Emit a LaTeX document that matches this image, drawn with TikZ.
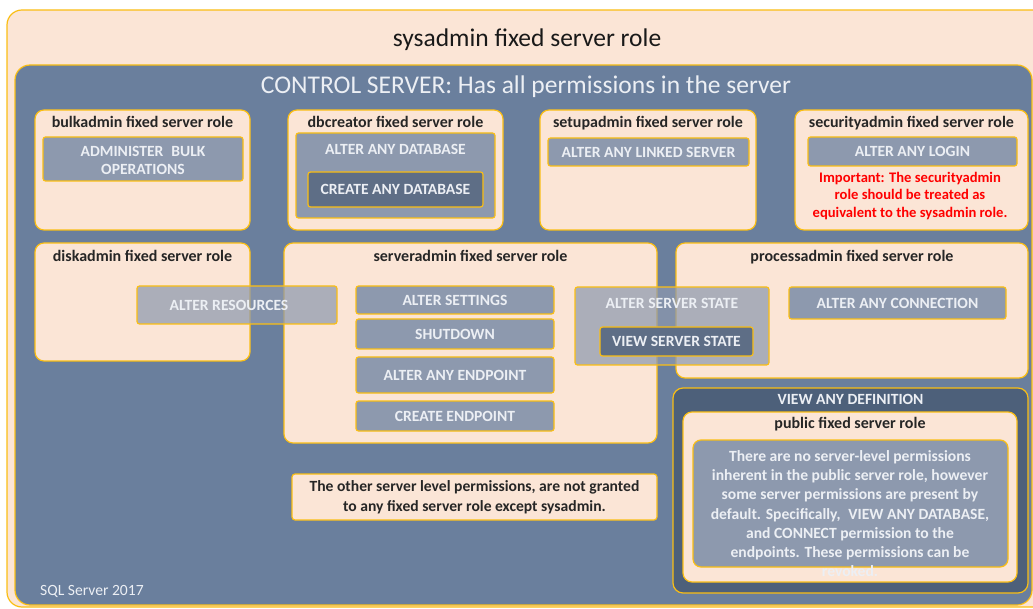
\documentclass[tikz,border=0pt]{standalone}
\usepackage{fontspec}
\setmainfont{Carlito}
\usepackage{xcolor}
\usetikzlibrary{fit,positioning}

\definecolor{peach}{RGB}{251,229,214}
\definecolor{gold}{RGB}{250,190,20}
\definecolor{slate}{RGB}{106,127,157}
\definecolor{permgray}{RGB}{141,153,174}
\definecolor{permdark}{RGB}{94,110,134}
\definecolor{defblue}{RGB}{77,96,122}
\definecolor{paletext}{RGB}{236,239,244}

\begin{document}
\begin{tikzpicture}[x=1pt,y=-1pt]

        \tikzstyle{rolebox}=[draw=gold,fill=peach,line width=1.2pt,rounded corners=9pt,inner sep=0pt]
        \tikzstyle{permfont}=[font=\fontsize{15.6}{18}\selectfont\bfseries,text=paletext]
        \tikzstyle{perm}=[draw=gold,fill=permgray,line width=1.2pt,rounded corners=2.5pt,inner sep=0pt]
        \tikzstyle{permdk}=[perm,fill=permdark]
        \tikzstyle{permsee}=[perm,fill opacity=0.72]
        \tikzstyle{roletitle}=[font=\fontsize{16}{18}\selectfont\bfseries,text=black!85,inner sep=0pt]

        \useasboundingbox (0,0) rectangle (1033,609);
        \clip (0,0) rectangle (1033,609);

        %% sysadmin and CONTROL SERVER
        \node[rolebox,rounded corners=15pt,fit={(7,10) (1050,607)}] (sysadmin) {};
        \node[font=\fontsize{25.5}{30}\selectfont,text=black!90] (systitle) at (527,40) {sysadmin fixed server role};
        \node[draw=gold,fill=slate,line width=1.2pt,rounded corners=15pt,inner sep=0pt,fit={(15,65) (1032,605)}] (control) {};
        \node[font=\fontsize{25.5}{30}\selectfont,text=paletext] (ctrltitle) at (526,87) {CONTROL SERVER: Has all permissions in the server};

        %% first row
        \node[rolebox,fit={(35,110) (250,230)}] (bulkadmin) {};
        \node[roletitle,below=7pt of bulkadmin.north] {bulkadmin fixed server role};
        \node[perm,fit={(43,137) (243,181)}] (bulkops) {};
        \node[permfont,align=center] at ([yshift=-1pt]bulkops.center) {ADMINISTER\enspace BULK\\OPERATIONS};

        \node[rolebox,fit={(288,110) (503,230)}] (dbcreator) {};
        \node[roletitle,below=7pt of dbcreator.north] {dbcreator fixed server role};
        \node[perm,fit={(296,133) (495,218)}] (alterdb) {};
        \node[permfont,below=8pt of alterdb.north] {ALTER ANY DATABASE};
        \node[permdk,fit={(308,172) (483,207)},label={[permfont]center:CREATE ANY DATABASE}] (createdb) {};

        \node[rolebox,fit={(540,110) (756,230)}] (setupadmin) {};
        \node[roletitle,below=7pt of setupadmin.north] {setupadmin fixed server role};
        \node[perm,fit={(548,138) (749,166)},label={[permfont]center:ALTER ANY LINKED SERVER}] (linked) {};

        \node[rolebox,fit={(795,110) (1028,230)}] (securityadmin) {};
        \node[roletitle,below=7pt of securityadmin.north] {securityadmin fixed server role};
        \node[perm,fit={(808,137) (1017,166)},label={[permfont]center:ALTER ANY LOGIN}] (login) {};
        \node[font=\fontsize{14.6}{17.5}\selectfont\bfseries,text=red,align=center] (important) at (910,196)
            {Important: The securityadmin\\role should be treated as\\equivalent to the sysadmin role.};

        %% second row
        \node[rolebox,fit={(35,243) (250,361)}] (diskadmin) {};
        \node[roletitle,below=8pt of diskadmin.north] {diskadmin fixed server role};

        \node[rolebox,fit={(284,243) (657,443)}] (serveradmin) {};
        \node[roletitle,below=8pt of serveradmin.north] {serveradmin fixed server role};
        \node[perm,fit={(356,286) (554,314)},label={[permfont]center:ALTER SETTINGS}] (settings) {};
        \node[perm,fit={(356,319) (554,349)},label={[permfont]center:SHUTDOWN}] (shutdown) {};
        \node[perm,fit={(356,357) (554,393)},label={[permfont]center:ALTER ANY ENDPOINT}] (endpoint) {};
        \node[perm,fit={(356,401) (554,431)},label={[permfont]center:CREATE ENDPOINT}] (createep) {};

        \node[rolebox,fit={(676,243) (1028,378)}] (processadmin) {};
        \node[roletitle,below=8pt of processadmin.north] {processadmin fixed server role};
        \node[perm,fit={(789,287) (1006,319)},label={[permfont]center:ALTER ANY CONNECTION}] (connection) {};

        % shared permissions, see-through
        \node[permsee,fit={(137,286) (337,324)}] (resources) {};
        \node[permfont] at ([xshift=-8pt]resources.center) {ALTER RESOURCES};
        \node[permsee,fit={(575,287) (769,365)}] (serverstate) {};
        \node[permfont,below=8pt of serverstate.north] {ALTER SERVER STATE};
        \node[permdk,fit={(600,327) (753,356)},label={[permfont]center:VIEW SERVER STATE}] (viewstate) {};

        %% VIEW ANY DEFINITION and public
        \node[draw=gold,fill=defblue,line width=1.2pt,rounded corners=10pt,inner sep=0pt,fit={(673,388) (1028,593)}] (viewdef) {};
        \node[permfont,below=3pt of viewdef.north] {VIEW ANY DEFINITION};
        \node[rolebox,fit={(683,412) (1017,582)}] (public) {};
        \node[roletitle,below=6pt of public.north] {public fixed server role};
        \node[perm,rounded corners=8pt,fit={(693,440) (1008,567)}] (pubbox) {};
        \node[font=\fontsize{15.6}{19.3}\selectfont\bfseries,text=paletext,align=center,anchor=north,inner sep=0pt] (pubtext) at (850,450)
            {There are no server-level permissions\\inherent in the public server role, however\\some server permissions are present by\\
             default. Specifically,\enspace VIEW ANY DATABASE,\\and CONNECT permission to the\\endpoints. These permissions can be\\revoked.};

        %% remaining notes
        \node[rolebox,rounded corners=3pt,fit={(292,474) (657,520)}] (others) {};
        \node[font=\fontsize{15.6}{20}\selectfont\bfseries,text=black!85,align=center] at (others.center)
            {The other server level permissions, are not granted\\to any fixed server role except sysadmin.};
        \node[font=\fontsize{15.6}{18}\selectfont,text=paletext,anchor=west,inner sep=0pt] (version) at (40,591) {SQL Server 2017};

\end{tikzpicture}
\end{document}
